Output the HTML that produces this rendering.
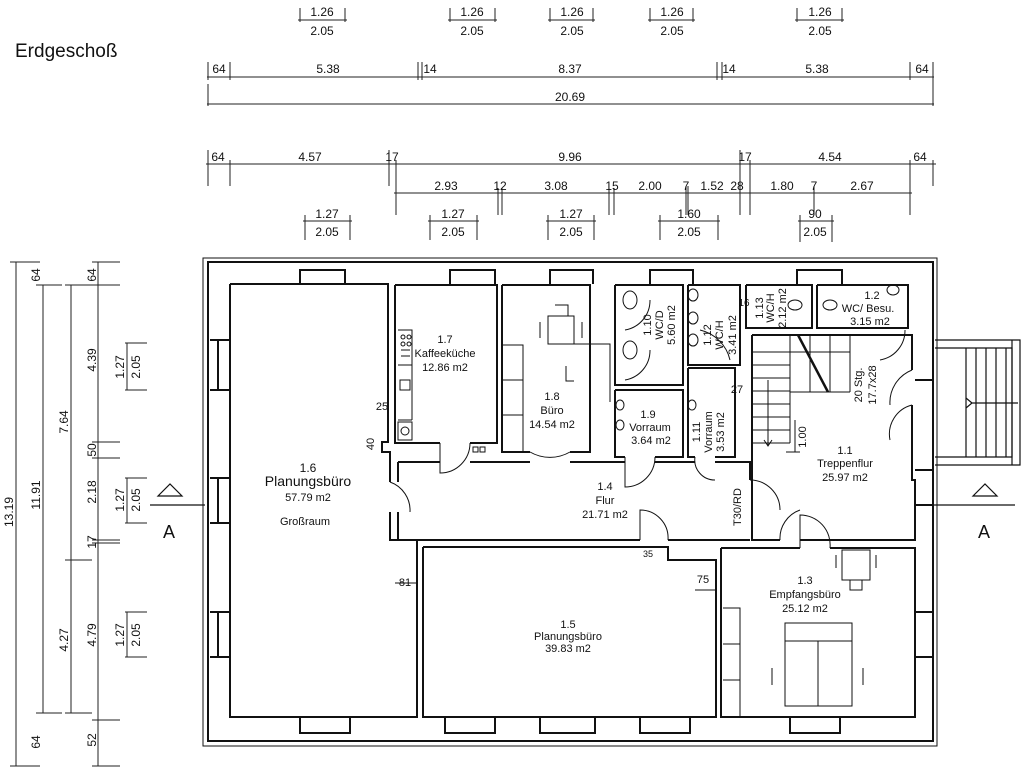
<!DOCTYPE html>
<html><head><meta charset="utf-8"><style>
html,body{margin:0;padding:0;background:#fff;}
svg{display:block}
text{font-family:"Liberation Sans Narrow","Liberation Sans",sans-serif;fill:#111;}
.d{font-size:12px;}
.r{font-size:11px;}
</style></head><body>
<svg width="1024" height="768" viewBox="0 0 1024 768" xmlns="http://www.w3.org/2000/svg">
<g stroke="#222" stroke-width="1" fill="none">
<path d="M298 20H347M300 8V22M345 8V22 M448 20H497M450 8V22M495 8V22 M548 20H595M550 8V22M593 8V22 M648 20H695M650 8V22M693 8V22 M795 20H844M797 8V22M842 8V22"/>
<path d="M207 77H934 M208 62V80M230 62V80M418 62V80M422 62V80M717 62V80M722 62V80M910 62V80M933 62V106"/>
<path d="M207 104H934M208 84V106"/>
<path d="M206 164H936 M208 150V186M230 160V186M389 150V186M396 160V215M740 150V215M750 160V215M910 160V215M933 160V186"/>
<path d="M394 193H912 M498 188V215M502 188V215M609 188V215M614 188V215M686 186V215M688 186V215M814 186V215"/>
<path d="M303 221H352M305 215V240M350 215V240 M428 221H479M430 215V240M477 215V240 M546 221H596M548 215V240M594 215V240 M658 221H720M660 215V240M718 215V240 M798 221H834M800 215V242M832 215V242"/>
<path d="M16 262V766M10 262H40M10 766H40 M43 285V713M36 285H62M36 713H62 M71 285V713M65 285H92M65 560H92M65 713H92 M98 262V766M92 262H120M92 285H120M92 442H120M92 458H120M92 540H120M92 543H120M92 720H120M92 766H120"/>
<path d="M127 343V390M125 343H147M125 390H147 M127 478V523M125 478H147M125 523H147 M127 612V657M125 612H147M125 657H147"/>
</g>
<g class="d" text-anchor="middle">
<text x="322" y="16">1.26</text><text x="322" y="35">2.05</text>
<text x="472" y="16">1.26</text><text x="472" y="35">2.05</text>
<text x="572" y="16">1.26</text><text x="572" y="35">2.05</text>
<text x="672" y="16">1.26</text><text x="672" y="35">2.05</text>
<text x="820" y="16">1.26</text><text x="820" y="35">2.05</text>
<text x="219" y="73">64</text><text x="328" y="73">5.38</text><text x="430" y="73">14</text><text x="570" y="73">8.37</text><text x="729" y="73">14</text><text x="817" y="73">5.38</text><text x="922" y="73">64</text>
<text x="570" y="101">20.69</text>
<text x="218" y="161">64</text><text x="310" y="161">4.57</text><text x="392" y="161">17</text><text x="570" y="161">9.96</text><text x="745" y="161">17</text><text x="830" y="161">4.54</text><text x="920" y="161">64</text>
<text x="446" y="190">2.93</text><text x="500" y="190">12</text><text x="556" y="190">3.08</text><text x="612" y="190">15</text><text x="650" y="190">2.00</text><text x="686" y="190">7</text><text x="712" y="190">1.52</text><text x="737" y="190">28</text><text x="782" y="190">1.80</text><text x="814" y="190">7</text><text x="862" y="190">2.67</text>
<text x="327" y="218">1.27</text><text x="327" y="236">2.05</text>
<text x="453" y="218">1.27</text><text x="453" y="236">2.05</text>
<text x="571" y="218">1.27</text><text x="571" y="236">2.05</text>
<text x="689" y="218">1.60</text><text x="689" y="236">2.05</text>
<text x="815" y="218">90</text><text x="815" y="236">2.05</text>
</g>
<text x="15" y="57" style="font-size:19px">Erdgeschoß</text>
<g class="d" text-anchor="middle">
<text transform="translate(13 512) rotate(-90)">13.19</text>
<text transform="translate(40 495) rotate(-90)">11.91</text>
<text transform="translate(68 422) rotate(-90)">7.64</text>
<text transform="translate(68 640) rotate(-90)">4.27</text>
<text transform="translate(96 360) rotate(-90)">4.39</text>
<text transform="translate(96 450) rotate(-90)">50</text>
<text transform="translate(96 492) rotate(-90)">2.18</text>
<text transform="translate(96 542) rotate(-90)">17</text>
<text transform="translate(96 635) rotate(-90)">4.79</text>
<text transform="translate(40 275) rotate(-90)">64</text>
<text transform="translate(96 275) rotate(-90)">64</text>
<text transform="translate(40 742) rotate(-90)">64</text>
<text transform="translate(96 740) rotate(-90)">52</text>
<text transform="translate(124 367) rotate(-90)">1.27</text><text transform="translate(140 367) rotate(-90)">2.05</text>
<text transform="translate(124 500) rotate(-90)">1.27</text><text transform="translate(140 500) rotate(-90)">2.05</text>
<text transform="translate(124 635) rotate(-90)">1.27</text><text transform="translate(140 635) rotate(-90)">2.05</text>
</g>
<g stroke="#111" fill="none" stroke-width="1.2">
<path d="M158 496L170 484L182 496Z"/><path d="M150 505H205M930 505H1015"/>
<path d="M973 496L985 484L997 496Z"/>
</g>
<text x="163" y="538" style="font-size:18px">A</text>
<text x="978" y="538" style="font-size:18px">A</text>
<g stroke="#111" fill="none">
<rect x="203" y="258" width="734" height="488" stroke-width="1"/>
<rect x="208" y="262" width="725" height="479" stroke-width="2"/>
</g>
<g stroke="#111" fill="none" stroke-width="2">
<path d="M230 284H388V442H382V452H390V482 M390 512V540H417V717H230V284"/>
<path d="M210 340H230V390H210 M210 478H230V523H210 M210 612H230V657H210 M218 340V390M218 478V523M218 612V657"/>
<path d="M395 285H497V443H470 M440 443H395V285"/>
<path d="M502 285H590V452H570 M530 452H502V285"/>
<path d="M615 285H683V385H615V285 M615 390H683V457H655 M625 457H615V390"/>
<path d="M688 285H740V365H688V285 M688 368H735V457H715 M695 457H688V368"/>
<path d="M746 285H812V328H746V285 M817 285H908V328H817V285"/>
<path d="M752 335H912V370M912 405V480H915V540H800 M780 540H752V335"/>
<path d="M398 462H440 M470 462H530 M570 462H625 M655 462H695 M715 462H750V480 M398 462V482 M398 512V540H640 M668 540H750"/>
<path d="M423 547H668V560H716V717H423V547"/>
<path d="M721 548H800 M830 548H915V717H721V548"/>
<path d="M445 717V733H495V717 M540 717V733H595V717 M640 717V733H690V717 M790 717V733H840V717 M300 717V733H350V717"/>
<path d="M300 284V270H345V284 M450 284V270H495V284 M550 284V270H593V284 M650 284V270H693V284 M797 284V270H842V284"/>
<path d="M915 380H933 M915 470H933 M915 505H933 M915 612H933 M915 657H933"/>
</g>
<g stroke="#111" fill="none" stroke-width="1.2">
<path d="M935 340H1020V465H935 M935 348H1012V457H935"/>
<path d="M966 348V457M976 348V457M986 348V457M996 348V457M1006 348V457M1012 340V465"/>
<path d="M972 403H1018M966 398L972 403L966 408"/>
</g>
<g stroke="#111" fill="none" stroke-width="1">
<path d="M752 352H850M752 365H790M752 378H790M752 391H790M752 404H790M752 417H790M752 430H790M752 443H790M790 335V443 M810 335V392M830 335V392M850 335V392M790 392H850"/>
<path d="M798 335L828 392" stroke-width="2.5"/>
<path d="M768 380V445M764 440L768 446L772 440 M795 420V452M786 452H800"/>
</g>
<g stroke="#111" fill="none" stroke-width="1">
<path d="M390 482A30 30 0 0 1 410 512 M440 443V473A30 30 0 0 0 470 443 M530 452A40 40 0 0 0 570 452 M625 457V487A30 30 0 0 0 655 457 M695 457A20 20 0 0 0 715 480 M750 480A30 30 0 0 1 780 510 M780 540A30 30 0 0 1 800 510 M800 548V515A30 30 0 0 1 830 548 M640 540V510A28 28 0 0 1 668 540 M912 370A35 35 0 0 0 890 405 M912 405A30 30 0 0 0 890 440 M625 330A30 30 0 0 0 650 300 M625 380A30 30 0 0 0 650 350 M700 330A40 40 0 0 1 730 360 M905 330A30 30 0 0 1 880 360"/>
<path d="M398 330H412V420M398 420H412 M398 365H412M401 350H410M401 356H410 M400 380h10v10h-10z"/>
<circle cx="403" cy="337" r="2"/><circle cx="409" cy="337" r="2"/><circle cx="403" cy="344" r="2"/><circle cx="409" cy="344" r="2"/>
<rect x="398" y="422" width="14" height="18"/><circle cx="405" cy="431" r="4"/>
<rect x="473" y="447" width="5" height="5"/><rect x="480" y="447" width="5" height="5"/>
<rect x="548" y="316" width="26" height="28"/><path d="M540 322V338M582 322V338M555 305H568V316M570 344H610V402M566 366V381H574 M502 345H523V452M502 380H523M502 415H523"/>
<rect x="785" y="623" width="67" height="83"/><path d="M785 641H852M818 641V706 M723 608H740V717M723 644H740M723 680H740 M772 668V685M863 668V685"/>
<rect x="842" y="550" width="28" height="30"/><path d="M836 555V568M876 555V568M850 580V590H862V580"/>
<ellipse cx="630" cy="300" rx="7" ry="9"/><ellipse cx="630" cy="350" rx="7" ry="9"/>
<ellipse cx="693" cy="295" rx="5" ry="6"/><ellipse cx="693" cy="318" rx="5" ry="6"/><ellipse cx="693" cy="340" rx="5" ry="6"/>
<ellipse cx="620" cy="405" rx="4" ry="5"/><ellipse cx="620" cy="425" rx="4" ry="5"/><ellipse cx="692" cy="405" rx="4" ry="5"/>
<ellipse cx="795" cy="305" rx="7" ry="5"/><ellipse cx="830" cy="305" rx="7" ry="5"/><ellipse cx="893" cy="290" rx="6" ry="5"/>
</g>
<g class="r" text-anchor="middle">
<text x="445" y="343">1.7</text><text x="445" y="357">Kaffeeküche</text><text x="445" y="371">12.86  m2</text>
<text x="552" y="400">1.8</text><text x="552" y="414">Büro</text><text x="552" y="428">14.54  m2</text>
<text x="308" y="472" style="font-size:12px">1.6</text><text x="308" y="486" style="font-size:14px">Planungsbüro</text><text x="308" y="501">57.79  m2</text><text x="305" y="525">Großraum</text>
<text x="605" y="490">1.4</text><text x="605" y="504">Flur</text><text x="605" y="518">21.71  m2</text>
<text x="568" y="628">1.5</text><text x="568" y="640">Planungsbüro</text><text x="568" y="652">39.83  m2</text>
<text x="805" y="584">1.3</text><text x="805" y="598">Empfangsbüro</text><text x="805" y="612">25.12  m2</text>
<text x="845" y="454">1.1</text><text x="845" y="467">Treppenflur</text><text x="845" y="481">25.97  m2</text>
<text x="648" y="418">1.9</text><text x="650" y="431">Vorraum</text><text x="651" y="444">3.64  m2</text>
<text x="872" y="299">1.2</text><text x="868" y="312">WC/ Besu.</text><text x="870" y="325">3.15  m2</text>
<text transform="translate(651 325) rotate(-90)">1.10</text><text transform="translate(663 325) rotate(-90)">WC/D</text><text transform="translate(675 325) rotate(-90)">5.60  m2</text>
<text transform="translate(711 335) rotate(-90)">1.12</text><text transform="translate(723 335) rotate(-90)">WC/H</text><text transform="translate(736 335) rotate(-90)">3.41  m2</text>
<text transform="translate(763 308) rotate(-90)">1.13</text><text transform="translate(774 308) rotate(-90)">WC/H</text><text transform="translate(786 308) rotate(-90)">2.12  m2</text>
<text transform="translate(700 432) rotate(-90)">1.11</text><text transform="translate(712 432) rotate(-90)">Vorraum</text><text transform="translate(724 432) rotate(-90)">3.53  m2</text>
<text transform="translate(862 385) rotate(-90)">20 Stg.</text><text transform="translate(876 385) rotate(-90)">17.7x28</text>
<text transform="translate(806 437) rotate(-90)">1.00</text>
<text transform="translate(741 507) rotate(-90)">T30/RD</text>
<text x="382" y="410">25</text><text transform="translate(374 444) rotate(-90)">40</text>
<text x="405" y="586">81</text><text x="703" y="583">75</text><text x="648" y="557" style="font-size:9px">35</text>
<text x="744" y="306" style="font-size:10px">16</text><text x="737" y="393">27</text>
</g>
<g stroke="#111" stroke-width="1"><path d="M395 583H417M695 590H716"/></g>
</svg>
</body></html>
